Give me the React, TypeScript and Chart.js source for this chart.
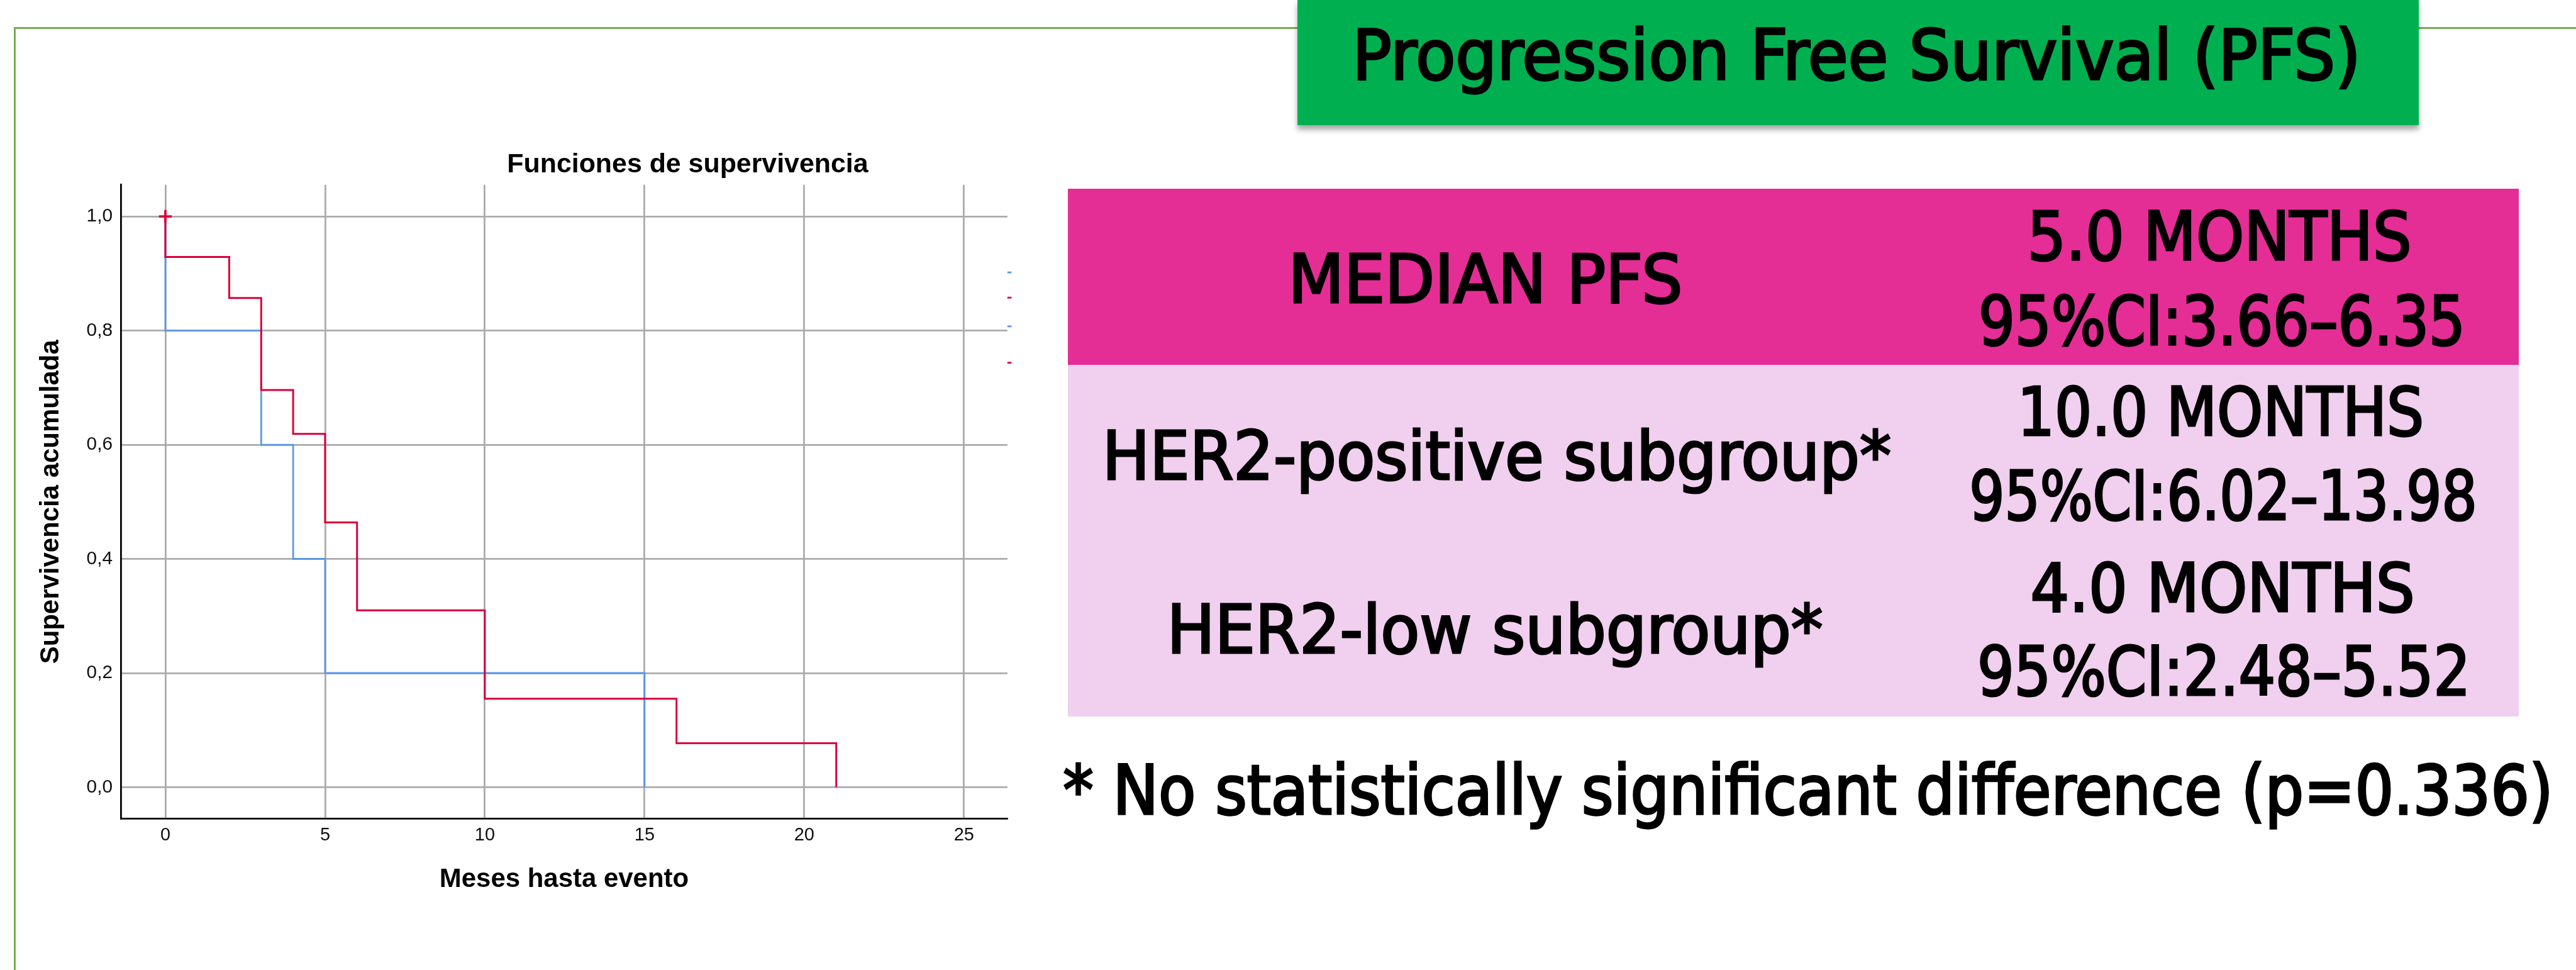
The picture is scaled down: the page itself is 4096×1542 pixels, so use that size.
import React, { useEffect, useLayoutEffect, useRef } from 'react';
import { Chart, registerables } from 'chart.js';

Chart.register(...registerables);

// Scale from reference pixels (4394 x 1654) to window pixels (4096 x 1542)
const S = 4096 / 4394;

// ---------------- chart data ----------------
const chartTitle = 'Funciones de supervivencia';
const xAxisTitle = 'Meses hasta evento';
const yAxisTitle = 'Supervivencia acumulada';
const xTickValues = [0, 5, 10, 15, 20, 25];
const yTickValues = [0, 0.2, 0.4, 0.6, 0.8, 1.0];

// Kaplan-Meier step curves (time in months, cumulative survival after each step)
const redTimes = [0, 0, 2, 3, 4, 5, 6, 10, 16, 21];
const redSurvival = [1.0, 0.929, 0.857, 0.696, 0.619, 0.464, 0.31, 0.155, 0.077, 0.0];
const blueTimes = [0, 0, 3, 4, 5, 15];
const blueSurvival = [1.0, 0.8, 0.6, 0.4, 0.2, 0.0];
const censorTimes = [0];
const censorSurvival = [1.0];

// ---------------- slide text ----------------
const slideTitle = 'Progression Free Survival (PFS)';
const rowLabels = ['MEDIAN PFS', 'HER2-positive subgroup*', 'HER2-low subgroup*'];
const rowMedians = ['5.0 MONTHS', '10.0 MONTHS', '4.0 MONTHS'];
const rowCIs = ['95%CI:3.66\u20136.35', '95%CI:6.02\u201313.98', '95%CI:2.48\u20135.52'];
const footnote = '* No statistically significant difference (p=0.336)';

// ---------------- layout (reference px) ----------------
const labelCx = [2534, 2553, 2550];
const labelCy = [474, 776, 1072];
const labelW = [672, 1346, 1119];
const medianCx = [3786, 3788, 3791];
const medianCy = [401, 701, 1001];
const medianW = [655, 693, 655];
const ciCx = [3790, 3792, 3793];
const ciCy = [546, 844, 1144];
const ciW = [830, 866, 841];

const RED = '#D9003A';
const BLUE = '#5B97E4';
const GRID = '#ABABAB';
const SLIDE_FONT = "'DejaVu Sans Condensed', 'DejaVu Sans', sans-serif";

Chart.defaults.font.family = "'Liberation Sans', Arial, sans-serif";

// canvas box in reference px
const CANVAS = { left: 30, top: 60, right: 1760, bottom: 1600 };
const PLOT = { left: 206, top: 315, right: 1718, bottom: 1396 };

const kmDecor = {
  id: 'kmDecor',
  afterDraw(chart: any) {
    const { ctx, chartArea } = chart;
    ctx.save();
    // chart title (SPSS centres it over plot + legend)
    ctx.font = `bold ${46 * S}px 'Liberation Sans', Arial, sans-serif`;
    ctx.fillStyle = '#000';
    ctx.textAlign = 'center';
    ctx.textBaseline = 'middle';
    ctx.fillText(chartTitle, chartArea.left + (1173 - PLOT.left) * S, chartArea.top - (315 - 281) * S);
    // remnants of the cropped legend
    const marks = [
      [463, BLUE],
      [506, RED],
      [555, BLUE],
      [617, RED],
    ] as const;
    for (const [y, c] of marks) {
      ctx.fillStyle = c;
      ctx.fillRect(chartArea.right, chartArea.top + (y - PLOT.top) * S, 7 * S, 3 * S);
    }
    ctx.restore();
  },
};

function KMChart() {
  const ref = useRef<HTMLCanvasElement>(null);
  useEffect(() => {
    const canvas = ref.current;
    if (!canvas) return;
    const pts = (t: number[], s: number[]) => t.map((x, i) => ({ x, y: s[i] }));
    const xPerPx = 25 / (1644 - 282);
    const yPerPx = 1 / (1342 - 369);
    const xMin = -(282 - PLOT.left) * xPerPx;
    const xMax = 25 + (PLOT.right - 1644) * xPerPx;
    const yMax = 1 + (369 - PLOT.top) * yPerPx;
    const yMin = -(PLOT.bottom - 1342) * yPerPx;

    const chart = new Chart(canvas, {
      type: 'line',
      data: {
        datasets: [
          {
            label: 'Censurado',
            data: pts(censorTimes, censorSurvival),
            showLine: false,
            pointStyle: 'cross',
            pointRadius: 11 * S,
            pointBorderWidth: 4 * S,
            pointBorderColor: RED,
            borderColor: RED,
            backgroundColor: RED,
          },
          {
            label: 'Grupo 2',
            data: pts(redTimes, redSurvival),
            borderColor: RED,
            borderWidth: 3.2 * S,
            stepped: true,
            pointRadius: 0,
            fill: false,
          },
          {
            label: 'Grupo 1',
            data: pts(blueTimes, blueSurvival),
            borderColor: BLUE,
            borderWidth: 3 * S,
            stepped: true,
            pointRadius: 0,
            fill: false,
          },
        ],
      },
      options: {
        animation: false,
        responsive: false,
        events: [],
        layout: {
          padding: {
            top: (PLOT.top - CANVAS.top) * S,
            right: (CANVAS.right - PLOT.right) * S,
            left: 0,
            bottom: 0,
          },
        },
        plugins: {
          legend: { display: false },
          tooltip: { enabled: false },
          title: { display: false },
        },
        scales: {
          x: {
            type: 'linear',
            min: xMin,
            max: xMax,
            afterBuildTicks: (s: any) => {
              s.ticks = xTickValues.map((v) => ({ value: v }));
            },
            afterFit: (s: any) => {
              s.height = (CANVAS.bottom - PLOT.bottom) * S;
            },
            grid: { color: GRID, lineWidth: 3 * S, drawTicks: false },
            border: { color: '#000', width: 3 * S },
            ticks: {
              padding: 10 * S,
              color: '#111',
              font: { size: 31 * S },
              callback: (v: any) => String(v),
            },
            title: {
              display: true,
              text: xAxisTitle,
              color: '#000',
              font: { size: 45 * S, weight: 'bold' },
              padding: { top: 0, bottom: 73 * S },
            },
          },
          y: {
            type: 'linear',
            min: yMin,
            max: yMax,
            afterBuildTicks: (s: any) => {
              s.ticks = yTickValues.map((v) => ({ value: v }));
            },
            afterFit: (s: any) => {
              s.width = (PLOT.left - CANVAS.left) * S;
            },
            grid: { color: GRID, lineWidth: 3 * S, drawTicks: false },
            border: { color: '#000', width: 3 * S },
            ticks: {
              padding: 14 * S,
              color: '#111',
              font: { size: 32 * S },
              callback: (v: any) => Number(v).toFixed(1).replace('.', ','),
            },
            title: {
              display: true,
              text: yAxisTitle,
              color: '#000',
              font: { size: 45 * S, weight: 'bold' },
              padding: { top: 30 * S, bottom: 0 },
            },
          },
        },
      },
      plugins: [kmDecor],
    } as any);
    return () => chart.destroy();
  }, []);
  const w = Math.round((CANVAS.right - CANVAS.left) * S);
  const h = Math.round((CANVAS.bottom - CANVAS.top) * S);
  return (
    <canvas
      ref={ref}
      width={w}
      height={h}
      style={{
        position: 'absolute',
        left: CANVAS.left * S,
        top: CANVAS.top * S,
        width: w,
        height: h,
      }}
    />
  );
}

function FitText(props: { text: string; cx: number; cy: number; fs: number; w: number }) {
  const { text, cx, cy, fs, w } = props;
  const ref = useRef<HTMLSpanElement>(null);
  useLayoutEffect(() => {
    const el = ref.current;
    if (!el) return;
    const fit = () => {
      el.style.transform = 'translateX(-50%)';
      const actual = el.offsetWidth;
      if (actual > 0) el.style.transform = `translateX(-50%) scaleX(${(w * S) / actual})`;
    };
    fit();
    if ((document as any).fonts && (document as any).fonts.ready) {
      (document as any).fonts.ready.then(fit);
    }
  }, [text, w, fs]);
  return (
    <span
      ref={ref}
      style={{
        position: 'absolute',
        left: cx * S,
        top: (cy - 0.4815 * fs) * S,
        fontSize: fs * S,
        lineHeight: 1,
        fontFamily: SLIDE_FONT,
        fontStretch: 'condensed',
        fontWeight: 400,
        WebkitTextStroke: `${0.03 * fs * S}px #000`,
        whiteSpace: 'nowrap',
        color: '#000',
        transformOrigin: '50% 50%',
        transform: 'translateX(-50%)',
      }}
    >
      {text}
    </span>
  );
}

export default function App() {
  const box = (l: number, t: number, w: number, h: number, extra: React.CSSProperties = {}) => ({
    position: 'absolute' as const,
    left: l * S,
    top: t * S,
    width: w * S,
    height: h * S,
    ...extra,
  });
  return (
    <div
      style={{
        position: 'absolute',
        left: 0,
        top: 0,
        width: 4096,
        height: 1542,
        overflow: 'hidden',
        background: '#fff',
      }}
    >
      {/* slide frame */}
      <div style={box(24, 46, 4394 - 24, 3, { background: '#72B04F' })} />
      <div style={box(24, 46, 3, 1654 - 46, { background: '#72B04F' })} />

      <KMChart />

      {/* title banner */}
      <div
        style={box(2213, 0, 1913, 213, {
          background: '#00B050',
          boxShadow: `0 ${8 * S}px ${9 * S}px rgba(0,0,0,0.35)`,
        })}
      />
      <FitText text={slideTitle} cx={3167} cy={92} fs={118} w={1720} />

      {/* table */}
      <div style={box(1822, 322, 2474, 300, { background: '#E52D96' })} />
      <div style={box(1822, 622, 2474, 600, { background: '#F1CFEE' })} />
      {rowLabels.map((t, i) => (
        <FitText key={'l' + i} text={t} cx={labelCx[i]} cy={labelCy[i]} fs={114} w={labelW[i]} />
      ))}
      {rowMedians.map((t, i) => (
        <FitText key={'m' + i} text={t} cx={medianCx[i]} cy={medianCy[i]} fs={114} w={medianW[i]} />
      ))}
      {rowCIs.map((t, i) => (
        <FitText key={'c' + i} text={t} cx={ciCx[i]} cy={ciCy[i]} fs={116} w={ciW[i]} />
      ))}

      <FitText text={footnote} cx={3084} cy={1346} fs={117} w={2542} />
    </div>
  );
}
